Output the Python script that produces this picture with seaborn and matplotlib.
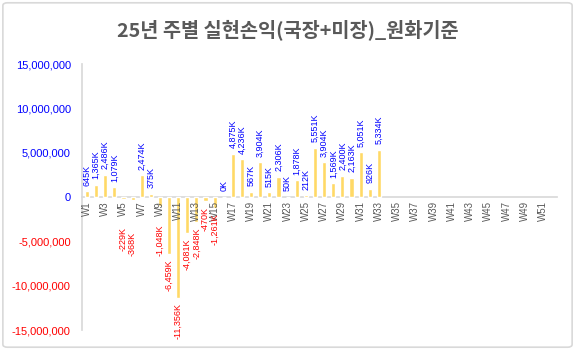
import numpy as np
import pandas as pd
import matplotlib
matplotlib.use("Agg")
import matplotlib.pyplot as plt
from matplotlib.patches import FancyBboxPatch
import seaborn as sns

# Weekly realized P&L for 2025 (KRW), domestic + US accounts combined
weeks = [f"W{i}" for i in range(1, 53)]
pnl_krw = [
    645_000, 1_365_000, 2_486_000, 1_079_000, -229_000, -368_000, 2_474_000, 375_000,
    -1_048_000, -6_459_000, -11_356_000, -4_081_000, -2_848_000, -470_000, -1_261_000, 0,
    4_875_000, 4_236_000, 567_000, 3_904_000, 515_000, 2_306_000, 50_000, 1_878_000,
    212_000, 5_551_000, 3_904_000, 1_569_000, 2_400_000, 2_163_000, 5_051_000, 926_000,
    5_334_000,
]
pnl_krw = pnl_krw + [np.nan] * (len(weeks) - len(pnl_krw))
y_ticks = [-15_000_000, -10_000_000, -5_000_000, 0, 5_000_000, 10_000_000, 15_000_000]
title = "25년 주별 실현손익(국장+미장)_원화기준"

df = pd.DataFrame({"week": weeks, "pnl": pnl_krw})

sns.set_theme(style="white")
plt.rcParams["font.family"] = ["Liberation Sans", "DejaVu Sans"]

BAR = "#FFD966"
POS = "#0000FF"
NEG = "#FF0000"
AXIS = "#D9D9D9"
TEXT = "#595959"

fig = plt.figure(figsize=(5.75, 3.5), dpi=100)
fig.patch.set_facecolor("white")
fig.patches.append(FancyBboxPatch((0.005, 0.008), 0.99, 0.984,
                                  boxstyle="round,pad=0,rounding_size=0.008",
                                  transform=fig.transFigure, facecolor="none",
                                  edgecolor=AXIS, linewidth=1.2))

ax = fig.add_axes([0.1433, 0.0571, 0.825, 0.76])
sns.barplot(data=df, x="week", y="pnl", order=weeks, color=BAR, width=0.45,
            saturation=1, errorbar=None, ax=ax)

ax.set_xlim(-0.5, len(weeks) - 0.5)
ax.set_ylim(y_ticks[0], y_ticks[-1])
ax.set_xlabel("")
ax.set_ylabel("")

# value labels, in thousands, vertical
nudge = {"W5": 16, "W6": 19, "W9": 9}
for i, (w, v) in enumerate(zip(weeks, pnl_krw)):
    if np.isnan(v):
        continue
    txt = f"{v / 1000:,.0f}K"
    if v < 0:
        off = -(4 + nudge.get(w, 0))
        ax.annotate(txt, (i, v), xytext=(0, off), textcoords="offset points",
                    rotation=90, ha="center", va="top", color=NEG, fontsize=6.5,
                    zorder=4)
    else:
        ax.annotate(txt, (i, v), xytext=(0, 4), textcoords="offset points",
                    rotation=90, ha="center", va="bottom", color=POS, fontsize=6.5,
                    zorder=4)

# axes styling
for s in ("top", "right"):
    ax.spines[s].set_visible(False)
ax.spines["left"].set_color(AXIS)
ax.spines["bottom"].set_color(AXIS)
ax.spines["bottom"].set_position(("data", 0))
ax.spines["bottom"].set_zorder(0)

ax.set_xticks(range(0, len(weeks), 2))
ax.set_xticklabels(weeks[::2], rotation=90, fontsize=7, color=TEXT)
ax.tick_params(axis="x", length=0, pad=3)
# category names sit over the negative bars
ax.xaxis.set_zorder(3)

ax.set_yticks(y_ticks)
ax.set_yticklabels([f"{t:,}" for t in y_ticks], fontsize=8)
for lab, t in zip(ax.get_yticklabels(), y_ticks):
    lab.set_color(NEG if t < 0 else POS)
ax.tick_params(axis="y", length=0, pad=8.4)
ax.grid(False)

fig.text(0.5, 0.914, title, ha="center", va="center", fontsize=14.2,
         fontweight="bold", color=TEXT, family=["Noto Sans CJK KR", "DejaVu Sans"])

fig.savefig("out.png", dpi=100, facecolor="white")
